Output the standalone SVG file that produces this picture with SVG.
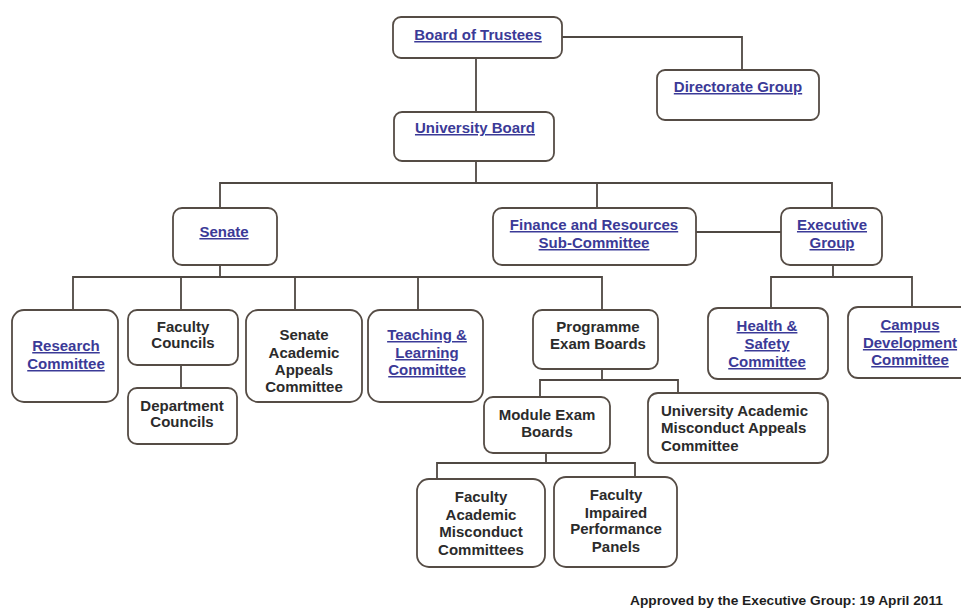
<svg xmlns="http://www.w3.org/2000/svg" width="961" height="613" viewBox="0 0 961 613">
<style>
.box{fill:#fff;stroke:#554c45;stroke-width:1.8}
.t{font-family:"Liberation Sans",Arial,sans-serif;font-weight:bold;font-size:15px;text-anchor:middle;fill:#2b2b2b}
.l{fill:#3b3a97;text-decoration:underline}
.c{fill:none;stroke:#4f4843;stroke-width:1.8}
</style>
<rect width="961" height="613" fill="#fff"/>
<g id="connectors">
<path class="c" d="M562 37H742V70"/>
<path class="c" d="M476 58V112"/>
<path class="c" d="M476 161V183"/>
<path class="c" d="M220 208V183H832V208"/>
<path class="c" d="M597 183V208"/>
<path class="c" d="M696 232H781"/>
<path class="c" d="M220 265V277"/>
<path class="c" d="M73 310V277H602V310"/>
<path class="c" d="M181 277V310M295 277V310M418 277V310"/>
<path class="c" d="M181 365V388"/>
<path class="c" d="M602 369V380"/>
<path class="c" d="M540 397V380H678V393"/>
<path class="c" d="M546 453V463"/>
<path class="c" d="M437 479V463H635V477"/>
<path class="c" d="M833 265V277"/>
<path class="c" d="M771 308V277H912V307"/>
</g>
<g id="board-of-trustees"><rect class="box" x="393" y="17" width="169" height="41" rx="8"/><text class="t l" x="478" y="40">Board of Trustees</text></g>
<g id="directorate-group"><rect class="box" x="657" y="70" width="162" height="50" rx="8"/><text class="t l" x="738" y="92">Directorate Group</text></g>
<g id="university-board"><rect class="box" x="394" y="112" width="160" height="49" rx="8"/><text class="t l" x="475" y="133">University Board</text></g>
<g id="senate"><rect class="box" x="173" y="208" width="104" height="57" rx="9"/><text class="t l" x="224" y="237">Senate</text></g>
<g id="finance"><rect class="box" x="493" y="208" width="203" height="57" rx="9"/><text class="t l" x="594" y="230">Finance and Resources</text><text class="t l" x="594" y="248">Sub-Committee</text></g>
<g id="executive-group"><rect class="box" x="781" y="208" width="101" height="57" rx="9"/><text class="t l" x="832" y="230">Executive</text><text class="t l" x="832" y="248">Group</text></g>
<g id="research-committee"><rect class="box" x="12" y="310" width="106" height="92" rx="12"/><text class="t l" x="66" y="351">Research</text><text class="t l" x="66" y="369">Committee</text></g>
<g id="faculty-councils"><rect class="box" x="128" y="310" width="110" height="55" rx="9"/><text class="t" x="183" y="332">Faculty</text><text class="t" x="183" y="348">Councils</text></g>
<g id="department-councils"><rect class="box" x="128" y="388" width="109" height="56" rx="9"/><text class="t" x="182" y="411">Department</text><text class="t" x="182" y="427">Councils</text></g>
<g id="senate-appeals"><rect class="box" x="246" y="310" width="116" height="92" rx="12"/><text class="t" x="304" y="340">Senate</text><text class="t" x="304" y="358">Academic</text><text class="t" x="304" y="375">Appeals</text><text class="t" x="304" y="392">Committee</text></g>
<g id="teaching-learning"><rect class="box" x="368" y="310" width="115" height="92" rx="12"/><text class="t l" x="427" y="340">Teaching &amp;</text><text class="t l" x="427" y="358">Learning</text><text class="t l" x="427" y="375">Committee</text></g>
<g id="programme-exam-boards"><rect class="box" x="533" y="310" width="125" height="59" rx="9"/><text class="t" x="598" y="332">Programme</text><text class="t" x="598" y="349">Exam Boards</text></g>
<g id="health-safety"><rect class="box" x="708" y="308" width="120" height="71" rx="10"/><text class="t l" x="767" y="331">Health &amp;</text><text class="t l" x="767" y="349">Safety</text><text class="t l" x="767" y="367">Committee</text></g>
<g id="campus-development"><rect class="box" x="848" y="307" width="124" height="71" rx="10"/><text class="t l" x="910" y="330">Campus</text><text class="t l" x="910" y="348">Development</text><text class="t l" x="910" y="365">Committee</text></g>
<g id="module-exam-boards"><rect class="box" x="484" y="397" width="126" height="56" rx="9"/><text class="t" x="547" y="420">Module Exam</text><text class="t" x="547" y="437">Boards</text></g>
<g id="uamac"><rect class="box" x="648" y="393" width="180" height="70" rx="10"/><text class="t" style="text-anchor:start" x="661" y="416">University Academic</text><text class="t" style="text-anchor:start" x="661" y="433">Misconduct Appeals</text><text class="t" style="text-anchor:start" x="661" y="451">Committee</text></g>
<g id="faculty-academic-misconduct"><rect class="box" x="417" y="479" width="128" height="88" rx="12"/><text class="t" x="481" y="502">Faculty</text><text class="t" x="481" y="520">Academic</text><text class="t" x="481" y="537">Misconduct</text><text class="t" x="481" y="555">Committees</text></g>
<g id="faculty-impaired"><rect class="box" x="554" y="477" width="123" height="90" rx="12"/><text class="t" x="616" y="500">Faculty</text><text class="t" x="616" y="518">Impaired</text><text class="t" x="616" y="534">Performance</text><text class="t" x="616" y="552">Panels</text></g>
<text class="t" style="text-anchor:start;font-size:12.5px;fill:#1e1e1e" x="630" y="605" textLength="313" lengthAdjust="spacingAndGlyphs">Approved by the Executive Group: 19 April 2011</text>
</svg>
